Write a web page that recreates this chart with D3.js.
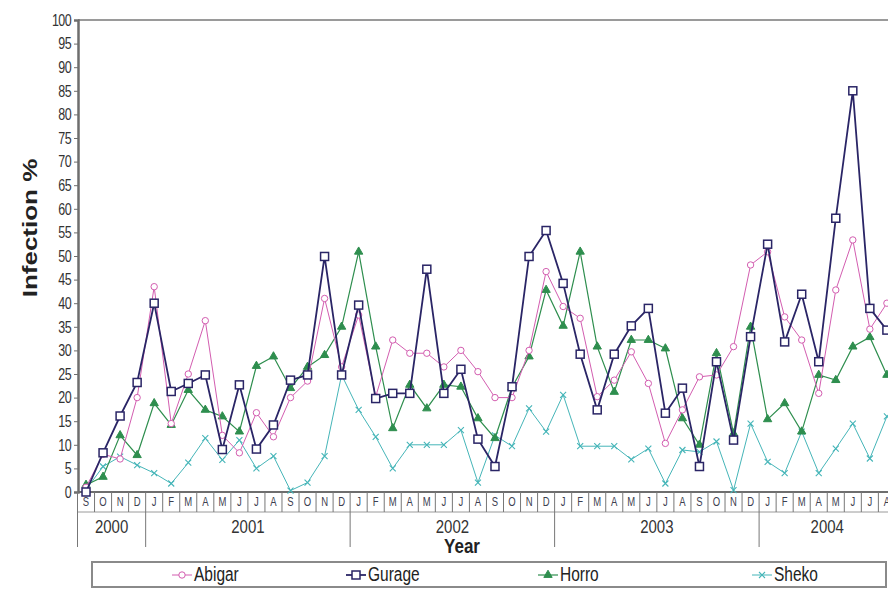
<!DOCTYPE html>
<html>
<head>
<meta charset="utf-8">
<script src="https://cdn.jsdelivr.net/npm/d3@7"></script>
<style>
  body { margin: 0; background: #fff; }
  text { font-family: "Liberation Sans", Arial, sans-serif; }
</style>
</head>
<body>
<div id="chart"></div>
<script>
// month letters, Sep 2000 .. Aug 2004
var months = ["S","O","N","D",
  "J","F","M","A","M","J","J","A","S","O","N","D",
  "J","F","M","A","M","J","J","A","S","O","N","D",
  "J","F","M","A","M","J","J","A","S","O","N","D",
  "J","F","M","A","M","J","J","A"];

var years = ["2000","2001","2002","2003","2004"];
var yearStart = [0, 4, 16, 28, 40];
var yearEnd = [4, 16, 28, 40, 48];

var yTicks = d3.range(0, 101, 5);

var abigar = [1, 8, 7, 20, 43.5, 14.5, 25, 36.3, 12, 8.3, 16.8, 11.7,
  20, 23.5, 41, 26.5, 37.5, 20.2, 32.2, 29.4, 29.4, 26.5, 30, 25.5,
  20, 20, 30, 46.7, 39.3, 36.8, 20.2, 23.7, 29.7, 23, 10.3, 17.4,
  24.4, 24.8, 30.8, 48.1, 50.9, 37.1, 32.2, 20.9, 42.8, 53.4, 34.5, 40];

var gurage = [0, 8.3, 16.1, 23.2, 40, 21.3, 23, 24.8, 9, 22.7, 9.1, 14.2,
  23.7, 24.8, 49.9, 24.8, 39.6, 19.8, 20.9, 20.9, 47.2, 20.9, 26, 11.2,
  5.4, 22.3, 49.9, 55.4, 44.2, 29.2, 17.4, 29.2, 35.2, 38.9, 16.7, 22,
  5.4, 27.6, 11, 32.9, 52.5, 31.8, 41.9, 27.6, 58, 85, 38.9, 34.3];

var horro = [1.5, 3.2, 12, 7.8, 18.8, 14.2, 21.6, 17.4, 16, 12.8, 26.7, 28.7,
  22, 26.5, 29, 35, 50.9, 30.8, 13.5, 22.7, 17.7, 22.7, 22.3, 15.6,
  11.4, 22.2, 28.7, 42.8, 35.2, 50.9, 30.8, 21.2, 32.2, 32.2, 30.4, 15.6,
  10, 29.4, 12.4, 35, 15.4, 18.8, 12.8, 24.8, 23.7, 30.8, 32.8, 24.8];

var sheko = [0.5, 5.4, 7.5, 5.7, 4, 1.8, 6.2, 11.4, 6.8, 11, 5, 7.6,
  0.3, 2, 7.6, 24.8, 17.4, 11.7, 5, 10, 10, 10, 13.1, 2,
  12, 9.7, 17.7, 12.8, 20.6, 9.7, 9.7, 9.7, 6.9, 9.2, 1.8, 8.9,
  8.5, 10.7, 0.4, 14.5, 6.4, 4, 12.8, 4, 9.2, 14.5, 7.1, 16];

var seriesNames = ["Abigar", "Gurage", "Horro", "Sheko"];
var seriesValues = [abigar, gurage, horro, sheko];
var seriesColors = ["#d35db0", "#2a2566", "#2e8e4e", "#45b5b8"];
var seriesWidths = [1, 1.8, 1.2, 1];
var seriesMarkers = ["circle", "square", "triangle", "cross"];

var W = 888, H = 608;
var plotLeft = 78, plotTop = 20, plotBottom = 492;
var slot = 17.04;

var svg = d3.select("#chart").append("svg")
    .attr("width", W)
    .attr("height", H);

var x = d3.scaleBand()
    .domain(d3.range(months.length))
    .range([plotLeft - 0.5, plotLeft - 0.5 + slot * months.length])
    .padding(0);

var y = d3.scaleLinear().domain([0, 100]).range([plotBottom, plotTop]);

function cx(i) { return x(i) + x.bandwidth() / 2; }

// text in the picture is a bit taller than it is wide
function tallText(g, tx, ty, sy) {
  return g.append("text")
    .attr("transform", "translate(" + tx + "," + ty + ") scale(1," + sy + ")");
}

// top border
svg.append("line")
    .attr("x1", plotLeft).attr("x2", W)
    .attr("y1", plotTop).attr("y2", plotTop)
    .attr("stroke", "#9a9a9a").attr("stroke-width", 2);

// y axis
var yAxis = d3.axisLeft(y).tickValues(yTicks).tickSize(4).tickPadding(3);
var gy = svg.append("g")
    .attr("transform", "translate(" + plotLeft + ",0)")
    .call(yAxis);
gy.select(".domain").attr("stroke", "#6e6e6e").attr("stroke-width", 2.5);
gy.selectAll(".tick line").attr("stroke", "#6e6e6e");
gy.selectAll(".tick text")
    .attr("fill", "#333")
    .attr("transform", "scale(1,1.3)")
    .style("font-size", "12.5px")
    .style("letter-spacing", "-0.6px");

svg.append("text")
    .attr("transform", "translate(37,228) rotate(-90) scale(1.3,1)")
    .attr("text-anchor", "middle")
    .style("font-size", "20px")
    .style("font-weight", "bold")
    .attr("fill", "#222")
    .text("Infection %");

// x axis: month row and year row
var xg = svg.append("g");
xg.append("line")
    .attr("x1", plotLeft).attr("x2", W)
    .attr("y1", plotBottom).attr("y2", plotBottom)
    .attr("stroke", "#6e6e6e").attr("stroke-width", 2);
xg.append("line")
    .attr("x1", plotLeft).attr("x2", W)
    .attr("y1", 512).attr("y2", 512)
    .attr("stroke", "#9a9a9a").attr("stroke-width", 1);

xg.selectAll(".msep")
    .data(d3.range(months.length + 1))
    .enter().append("line")
    .attr("class", "msep")
    .attr("x1", function(i) { return plotLeft - 0.5 + i * slot; })
    .attr("x2", function(i) { return plotLeft - 0.5 + i * slot; })
    .attr("y1", plotBottom).attr("y2", 512)
    .attr("stroke", "#777").attr("stroke-width", 1);

months.forEach(function(m, i) {
  tallText(xg, cx(i), 506, 1.25)
    .attr("text-anchor", "middle")
    .style("font-size", "9.5px")
    .attr("fill", "#3d4050")
    .text(m);
});

xg.selectAll(".ysep")
    .data(yearStart)
    .enter().append("line")
    .attr("class", "ysep")
    .attr("x1", function(s) { return x(s); })
    .attr("x2", function(s) { return x(s); })
    .attr("y1", 512).attr("y2", 547)
    .attr("stroke", "#777").attr("stroke-width", 1);

years.forEach(function(yr, i) {
  var mid = (x(yearStart[i]) + plotLeft - 0.5 + yearEnd[i] * slot) / 2;
  tallText(xg, mid, 533, 1.25)
    .attr("text-anchor", "middle")
    .style("font-size", "15px")
    .attr("fill", "#333")
    .text(yr);
});

tallText(svg, 462, 553, 1.15)
    .attr("text-anchor", "middle")
    .style("font-size", "17px")
    .style("font-weight", "bold")
    .attr("fill", "#222")
    .text("Year");

// markers
function drawMarker(g, type, color, px, py) {
  if (type === "circle") {
    g.append("circle").attr("cx", px).attr("cy", py).attr("r", 3.2)
      .attr("fill", "#fff").attr("stroke", color).attr("stroke-width", 1);
  } else if (type === "square") {
    g.append("rect").attr("x", px - 4).attr("y", py - 4)
      .attr("width", 8).attr("height", 8)
      .attr("fill", "#fff").attr("stroke", color).attr("stroke-width", 1.5);
  } else if (type === "triangle") {
    g.append("path")
      .attr("d", d3.symbol().type(d3.symbolTriangle).size(30)())
      .attr("transform", "translate(" + px + "," + py + ")")
      .attr("fill", color).attr("stroke", color);
  } else {
    g.append("path")
      .attr("d", "M-3,-3L3,3M-3,3L3,-3")
      .attr("transform", "translate(" + px + "," + py + ")")
      .attr("fill", "none").attr("stroke", color).attr("stroke-width", 1.1);
  }
}

var line = d3.line()
    .x(function(d, i) { return cx(i); })
    .y(function(d) { return y(d); });

var order = [3, 2, 0, 1];
order.forEach(function(k) {
  var g = svg.append("g");
  g.append("path")
    .datum(seriesValues[k])
    .attr("d", line)
    .attr("fill", "none")
    .attr("stroke", seriesColors[k])
    .attr("stroke-width", seriesWidths[k]);
  seriesValues[k].forEach(function(v, i) {
    drawMarker(g, seriesMarkers[k], seriesColors[k], cx(i), y(v));
  });
});

// legend
var lg = svg.append("g");
lg.append("rect")
    .attr("x", 92).attr("y", 562)
    .attr("width", 794).attr("height", 25)
    .attr("fill", "#fff")
    .attr("stroke", "#8a8a8a").attr("stroke-width", 2);
var legendX = [172, 346, 538, 752];
seriesNames.forEach(function(name, k) {
  var lx = legendX[k], ly = 575;
  lg.append("line")
    .attr("x1", lx).attr("x2", lx + 20)
    .attr("y1", ly).attr("y2", ly)
    .attr("stroke", seriesColors[k]).attr("stroke-width", seriesWidths[k]);
  drawMarker(lg, seriesMarkers[k], seriesColors[k], lx + 10, ly);
  tallText(lg, lx + 22, ly + 6, 1.25)
    .style("font-size", "15.5px")
    .attr("fill", "#222")
    .text(name);
});
</script>
</body>
</html>
